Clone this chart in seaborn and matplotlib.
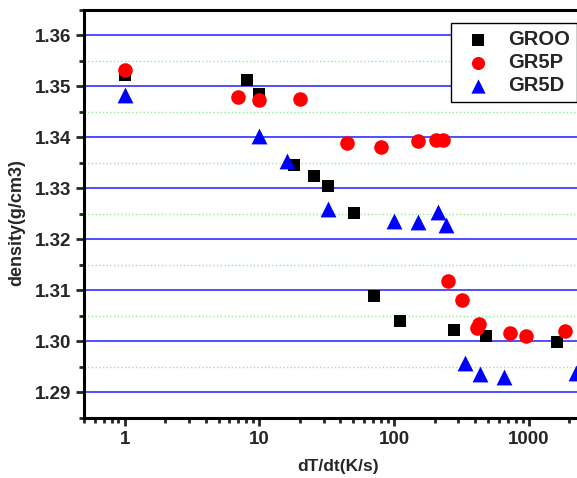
import pandas as pd
import matplotlib
matplotlib.use('Agg')
import matplotlib.pyplot as plt
import matplotlib.ticker as mticker
import seaborn as sns
import numpy as np

# Dados
groo_x = [1, 8.05, 10, 18.2, 25.3, 32.3, 50.6, 70.7, 110.8, 281, 480, 1632]
groo_y = [1.3523, 1.3512, 1.3485, 1.3346, 1.3325, 1.3305, 1.3251, 1.3089, 1.3040, 1.3022, 1.3011, 1.2999]

gr5p_x = [1, 6.95, 10, 20.1, 45.1, 80.1, 150.6, 204.8, 231.9, 251, 320.7, 415, 430, 732, 950, 1871]
gr5p_y = [1.3533, 1.3479, 1.3474, 1.3476, 1.3389, 1.3382, 1.3393, 1.3395, 1.3395, 1.3118, 1.3081,
          1.3026, 1.3033, 1.3016, 1.3010, 1.3021]

gr5d_x = [1, 10, 16.0, 32.3, 100.5, 151.4, 213, 241.6, 335.8, 435.5, 653, 2230]
gr5d_y = [1.3483, 1.3402, 1.3354, 1.3259, 1.3236, 1.3234, 1.3253, 1.3228, 1.2958, 1.2935, 1.2930, 1.2938]

series = ['GROO', 'GR5P', 'GR5D']

df = pd.concat([
    pd.DataFrame({'x': groo_x, 'y': groo_y, 'amostra': 'GROO'}),
    pd.DataFrame({'x': gr5p_x, 'y': gr5p_y, 'amostra': 'GR5P'}),
    pd.DataFrame({'x': gr5d_x, 'y': gr5d_y, 'amostra': 'GR5D'}),
], ignore_index=True)

sns.set_style('white')
plt.rcParams['font.family'] = ['Liberation Sans', 'DejaVu Sans']

fig = plt.figure(figsize=(5.77, 4.78), dpi=100)
ax = fig.add_axes([0.1456, 0.1261, 0.8821, 0.8530])

cores = {'GROO': 'black', 'GR5P': 'red', 'GR5D': 'blue'}
marcadores = {'GROO': 's', 'GR5P': 'o', 'GR5D': '^'}
tamanhos = {'GROO': 80, 'GR5P': 110, 'GR5D': 130}

for nome in series:
    sub = df[df['amostra'] == nome]
    sns.scatterplot(data=sub, x='x', y='y', ax=ax, color=cores[nome],
                    marker=marcadores[nome], s=tamanhos[nome], linewidth=0,
                    label=nome, zorder=3)

ax.set_xscale('log')
ax.set_xlim(0.5, 3000)
ax.set_ylim(1.285, 1.365)

ax.yaxis.set_major_locator(mticker.MultipleLocator(0.01))
ax.yaxis.set_minor_locator(mticker.MultipleLocator(0.005))
ax.yaxis.set_major_formatter(mticker.FormatStrFormatter('%.2f'))
ax.xaxis.set_major_locator(mticker.LogLocator(base=10))
ax.xaxis.set_minor_locator(mticker.LogLocator(base=10, subs=np.arange(2, 10)))
ax.xaxis.set_major_formatter(mticker.FuncFormatter(lambda v, p: f'{v:g}'))
ax.xaxis.set_minor_formatter(mticker.NullFormatter())

# Grade
ax.grid(False)
ax.yaxis.grid(True, which='major', color='#3030ff', linewidth=1.2)
ax.yaxis.grid(True, which='minor', color='#90ee90', linestyle=':', linewidth=1.0)
ax.set_axisbelow(True)

for lado in ['left', 'bottom', 'top', 'right']:
    ax.spines[lado].set_linewidth(2.2)
    ax.spines[lado].set_color('black')

ax.tick_params(axis='both', which='major', direction='out', length=6, width=2,
               labelsize=13.5, left=True, bottom=True)
ax.tick_params(axis='both', which='minor', direction='out', length=3.5, width=2,
               left=True, bottom=True)
for lbl in ax.get_xticklabels() + ax.get_yticklabels():
    lbl.set_fontweight('bold')

ax.set_xlabel('dT/dt(K/s)', fontsize=12.5, fontweight='bold', labelpad=8)
ax.set_ylabel('density(g/cm3)', fontsize=13, fontweight='bold')
ax.yaxis.set_label_coords(-0.116, 0.478)

leg = ax.legend(loc='upper left', bbox_to_anchor=(0.721, 0.968), frameon=True,
                fancybox=False, edgecolor='black', framealpha=1, borderaxespad=0,
                prop={'weight': 'bold', 'size': 14.5}, handletextpad=0.5,
                borderpad=0.35, labelspacing=0.2, markerscale=0.9)
leg.get_frame().set_linewidth(1.0)

plt.savefig('out.png', dpi=100)
